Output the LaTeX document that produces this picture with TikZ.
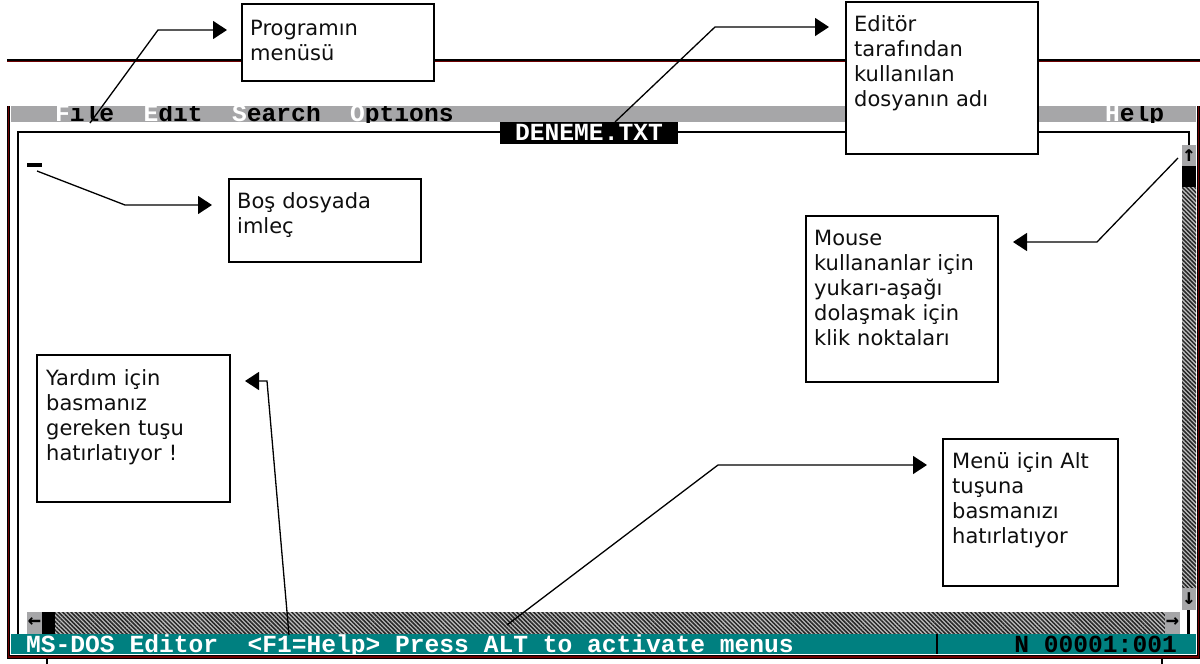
\documentclass[tikz,border=0pt]{standalone}
\usepackage{fontspec}
\setmainfont{DejaVu Sans}
\newfontfamily\dosfont{Liberation Mono}
\newfontfamily\arrfont{DejaVu Sans Mono}
\usetikzlibrary{arrows.meta,patterns.meta,calc}
\definecolor{framered}{RGB}{110,0,0}
\definecolor{menugray}{RGB}{166,166,168}
\definecolor{dosteal}{RGB}{0,128,128}
\definecolor{hatchbg}{RGB}{190,190,190}
\definecolor{calltext}{RGB}{15,15,15}
\tikzset{
  callout/.style={draw=black, line width=1.5pt, fill=white, anchor=north west, inner sep=0pt},
  callouttext/.style={anchor=base west, inner sep=0pt, align=left, text width=185pt,
    font=\fontsize{21}{25}\selectfont, text=calltext},
  conn/.style={draw=black, line width=1.3pt, line join=miter, -{Triangle[length=14pt,width=18pt]}},
  dostext/.style={inner sep=0pt, anchor=base west, font=\dosfont\bfseries\fontsize{24.6}{25}\selectfont},
  outerframe/.style={draw=black, line width=3.2pt},
  outerframein/.style={draw=framered, line width=1.6pt},
  hatch/.style={fill=hatchbg, postaction={pattern={Lines[angle=-45,distance=3pt,line width=1.5pt]}, pattern color=black!85}},
  arrowglyph/.style={inner sep=0pt, font=\arrfont\bfseries\fontsize{22}{22}\selectfont},
}
\begin{document}
\begin{tikzpicture}[x=1pt,y=-1pt]
\useasboundingbox (0,0) rectangle (1200,664);
\fill[white] (0,0) rectangle (1200,664);

% top separator line
\draw[outerframe, line width=2.6pt] (7,60) -- (1200,60);
\draw[outerframein, line width=1pt] (7,61) -- (1200,61);

% menu bar
\fill[menugray] (11,106) rectangle (1196,122);
\begin{scope}
  \clip (11,106) rectangle (1196,122);
  \node[dostext] (mfile) at (55,121) {{\color{white}F}ile};
  \node[dostext] (medit) at (143.5,121) {{\color{white}E}dit};
  \node[dostext] (msearch) at (232,121) {{\color{white}S}earch};
  \node[dostext] (moptions) at (350,121) {{\color{white}O}ptions};
  \node[dostext] (mhelp) at (1105,121) {{\color{white}H}elp};
\end{scope}

% inner window frame
\draw[line width=2.2pt] (18,634) -- (18,132) -- (1189,132) -- (1189,145);

% file name title
\node[fill=black, minimum width=178, minimum height=22, inner sep=0pt, anchor=north west] (title) at (500,122) {};
\node[dostext, text=white, anchor=base] (titletext) at (589,140) {DENEME.TXT};

% cursor
\fill[black] (27,163) rectangle (42,167);

% vertical scrollbar
\fill[menugray] (1182,145) rectangle (1196,166);
\node[arrowglyph] (upa) at (1189,155.5) {↑};
\fill[black] (1182,166) rectangle (1196,187);
\path[hatch] (1182,187) rectangle (1196,588);
\fill[menugray] (1182,588) rectangle (1196,610);
\node[arrowglyph] (downa) at (1189,599) {↓};
\draw[line width=2.5pt] (1188.5,610) -- (1188.5,634);

% horizontal scrollbar
\fill[menugray] (27,612) rectangle (42,634);
\node[arrowglyph] (lefta) at (34.5,623) {←};
\fill[black] (42,612) rectangle (55,634);
\path[hatch] (55,612) rectangle (1165,634);
\fill[menugray] (1165,612) rectangle (1180,634);
\node[arrowglyph] (righta) at (1172.5,623) {→};

% status bar
\fill[dosteal] (11,634) rectangle (1196,654);
\draw[line width=2pt] (937,634) -- (937,654);
\node[dostext, text=white] (status) at (26,652) {MS-DOS Editor~~<F1=Help> Press ALT to activate menus};
\node[dostext, anchor=base east, text=black] (pos) at (1177,652) {N 00001:001};

% outer frame
\draw[outerframe] (8.5,106) -- (8.5,657) -- (1198.5,657) -- (1198.5,106);
\draw[outerframein] (8.5,106) -- (8.5,657) -- (1198.5,657) -- (1198.5,106);
\draw[black, line width=1.5pt] (47,658) -- (47,664);
\draw[black, line width=1.5pt] (1162,658) -- (1162,664);

% callout boxes
\node[callout, minimum width=192, minimum height=77] (prog) at (241,3) {};
\node[callouttext] (progt) at (250,35) {Programın\\menüsü};

\node[callout, minimum width=192, minimum height=152] (editor) at (845,1) {};
\node[callouttext] (editort) at (854,31) {Editör\\tarafından\\kullanılan\\dosyanın adı};

\node[callout, minimum width=192, minimum height=83] (bos) at (228,178) {};
\node[callouttext] (bost) at (237,208) {Boş dosyada\\imleç};

\node[callout, minimum width=192, minimum height=166] (mouse) at (805,215) {};
\node[callouttext] (mouset) at (814,245) {Mouse\\kullananlar için\\yukarı-aşağı\\dolaşmak için\\klik noktaları};

\node[callout, minimum width=193, minimum height=147] (yardim) at (36,354) {};
\node[callouttext] (yardimt) at (46,385) {Yardım için\\basmanız\\gereken tuşu\\hatırlatıyor !};

\node[callout, minimum width=175, minimum height=147] (menu) at (942,438) {};
\node[callouttext] (menut) at (952,468) {Menü için Alt\\tuşuna\\basmanızı\\hatırlatıyor};

% connectors
\coordinate (pa) at (90,123);   \coordinate (pb) at (158,30);  \coordinate (pc) at (227,30);
\draw[conn] (pa) -- (pb) -- (pc);

\coordinate (ea) at (615,122);  \coordinate (eb) at (715,27);  \coordinate (ec) at (829,27);
\draw[conn] (ea) -- (eb) -- (ec);

\coordinate (ca) at (37,171);   \coordinate (cb) at (125,205); \coordinate (cc) at (212,205);
\draw[conn] (ca) -- (cb) -- (cc);

\coordinate (sa) at (1178,158); \coordinate (sb) at (1097,242); \coordinate (sc) at (1013,242);
\draw[conn] (sa) -- (sb) -- (sc);

\coordinate (ha) at (289,635);  \coordinate (hb) at (267,381); \coordinate (hc) at (245,381);
\draw[conn] (ha) -- (hb) -- (hc);

\coordinate (ma) at (507,625);  \coordinate (mb) at (718,465); \coordinate (mc) at (927,465);
\draw[conn] (ma) -- (mb) -- (mc);
\end{tikzpicture}
\end{document}
